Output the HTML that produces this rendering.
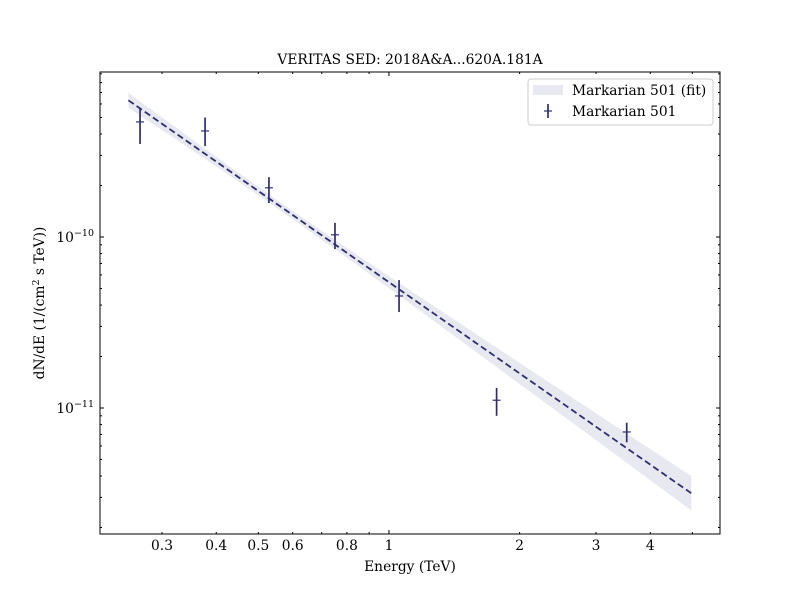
<!DOCTYPE html>
<html><head><meta charset="utf-8"><style>
body{margin:0;background:#fff}
svg{display:block;font-family:"DejaVu Serif","Liberation Serif",serif}
</style></head><body>
<svg id="chart" width="800" height="600"></svg>
<script>
const energies=[0.267,0.377,0.529,0.751,1.055,1.77,3.53];
const fluxes=[4.71e-10,4.17e-10,1.94e-10,1.03e-10,4.52e-11,1.11e-11,7.24e-12];
const fluxHi=[5.7e-10,5.0e-10,2.24e-10,1.21e-10,5.6e-11,1.31e-11,8.2e-12];
const fluxLo=[3.5e-10,3.4e-10,1.58e-10,0.85e-10,3.64e-11,0.90e-11,6.3e-12];
const fitAmplitude=[5.44e-11];
const fitIndex=[1.772];
const fitRange=[0.251,4.97];
const xTickVals=[0.3,0.4,0.5,0.6,0.8,1,2,3,4];
const xTickLabels=["0.3","0.4","0.5","0.6","0.8","1","2","3","4"];
const yTickExps=[-10,-11];

const NS="http://www.w3.org/2000/svg";
const svg=document.getElementById('chart');
const L=100,R=720,T=72,B=534;
const xmin=Math.log10(0.2159),xmax=Math.log10(5.79);
const ymin=-11.737,ymax=-9.035;
const X=v=>L+(Math.log10(v)-xmin)/(xmax-xmin)*(R-L);
const Y=v=>B-(Math.log10(v)-ymin)/(ymax-ymin)*(B-T);
function el(tag,attrs,parent){const e=document.createElementNS(NS,tag);for(const k in attrs)e.setAttribute(k,attrs[k]);(parent||svg).appendChild(e);return e;}
const col="#2e2e6e";
const FS=13.8;

let t=el('text',{x:410,y:64,'text-anchor':'middle','font-size':FS});


t.textContent="VERITAS SED: 2018A&A...620A.181A";

const fitF=e=>fitAmplitude[0]*Math.pow(e,-fitIndex[0]);
const halfW=e=>{const d=Math.log10(e)+0.25;return Math.sqrt(0.024*0.024+Math.pow(0.103*d,2));};
let up=[],lo=[],ln=[];
const n=60,l0=Math.log10(fitRange[0]),l1=Math.log10(fitRange[1]);
for(let i=0;i<=n;i++){const e=Math.pow(10,l0+(l1-l0)*i/n);const f=fitF(e),h=halfW(e);
up.push(X(e)+','+Y(f*Math.pow(10,h)));lo.push(X(e)+','+Y(f/Math.pow(10,h)));ln.push(X(e)+','+Y(f));}
const clip=el('clipPath',{id:'pc'});el('rect',{x:L,y:T,width:R-L,height:B-T},clip);
const g=el('g',{'clip-path':'url(#pc)'});
let band=el('polygon',{points:up.concat(lo.reverse()).join(' '),fill:'#e8e8f0'},g);


let fl=el('polyline',{points:ln.join(' '),fill:'none',stroke:col,'stroke-width':1.8,'stroke-dasharray':'6.5,3.5'},g);



energies.forEach((e,i)=>{
 const gp=el('g',{},g);
 
 
 const x=X(e);
 el('line',{x1:x,x2:x,y1:Y(fluxHi[i]),y2:Y(fluxLo[i]),stroke:col,'stroke-width':1.7},gp);
 el('line',{x1:x-4,x2:x+4,y1:Y(fluxes[i]),y2:Y(fluxes[i]),stroke:col,'stroke-width':1.2},gp);
});

let fr=el('rect',{x:L,y:T,width:R-L,height:B-T,fill:'none',stroke:'#000','stroke-width':1});



const xMinor=[0.3,0.4,0.5,0.6,0.7,0.8,0.9,2,3,4,5];
xMinor.forEach(v=>{const x=X(v);el('line',{x1:x,x2:x,y1:B,y2:B-2,stroke:'#000'});el('line',{x1:x,x2:x,y1:T,y2:T+2,stroke:'#000'});});
[1].forEach(v=>{const x=X(v);el('line',{x1:x,x2:x,y1:B,y2:B-4,stroke:'#000'});el('line',{x1:x,x2:x,y1:T,y2:T+4,stroke:'#000'});});
xTickVals.forEach((v,i)=>{let tx=el('text',{x:X(v),y:B+16,'text-anchor':'middle','font-size':FS});
 
 
 tx.textContent=xTickLabels[i];});

for(let ex=-12;ex<=-10;ex++)for(let m=2;m<=9;m++){const v=m*Math.pow(10,ex);const y=Y(v);if(y<T||y>B)continue;
 el('line',{x1:L,x2:L+2,y1:y,y2:y,stroke:'#000'});el('line',{x1:R,x2:R-2,y1:y,y2:y,stroke:'#000'});}
yTickExps.forEach(ex=>{const y=Y(Math.pow(10,ex));
 el('line',{x1:L,x2:L+4,y1:y,y2:y,stroke:'#000'});el('line',{x1:R,x2:R-4,y1:y,y2:y,stroke:'#000'});
 let ty=el('text',{x:L-6,y:y+5,'text-anchor':'end','font-size':FS});
 
 
 ty.innerHTML='10<tspan dy="-6" font-size="9.5">−'+(-ex)+'</tspan>';});

let xt=el('text',{x:410,y:571,'text-anchor':'middle','font-size':FS});


xt.textContent="Energy (TeV)";
let yt=el('text',{x:0,y:0,'text-anchor':'middle','font-size':FS,transform:'translate(44,303) rotate(-90)'});


yt.innerHTML='dN/dE (1/(cm<tspan dy="-5" font-size="9.5">2</tspan><tspan dy="5"> s TeV))</tspan>';

const lg=el('g',{});


el('rect',{x:528,y:79,width:185,height:46,rx:3,fill:'#fff',stroke:'#ccc'},lg);
const le1=el('g',{},lg);


el('rect',{x:533,y:85,width:30,height:10,fill:'#e8e8f0'},le1);
let lt1=el('text',{x:572,y:95,'font-size':FS},le1);lt1.textContent="Markarian 501 (fit)";
const le2=el('g',{},lg);


el('line',{x1:548,x2:548,y1:104,y2:118,stroke:col,'stroke-width':1.7},le2);
el('line',{x1:544,x2:552,y1:111,y2:111,stroke:col,'stroke-width':1.2},le2);
let lt2=el('text',{x:572,y:116,'font-size':FS},le2);lt2.textContent="Markarian 501";
</script>
</body></html>
